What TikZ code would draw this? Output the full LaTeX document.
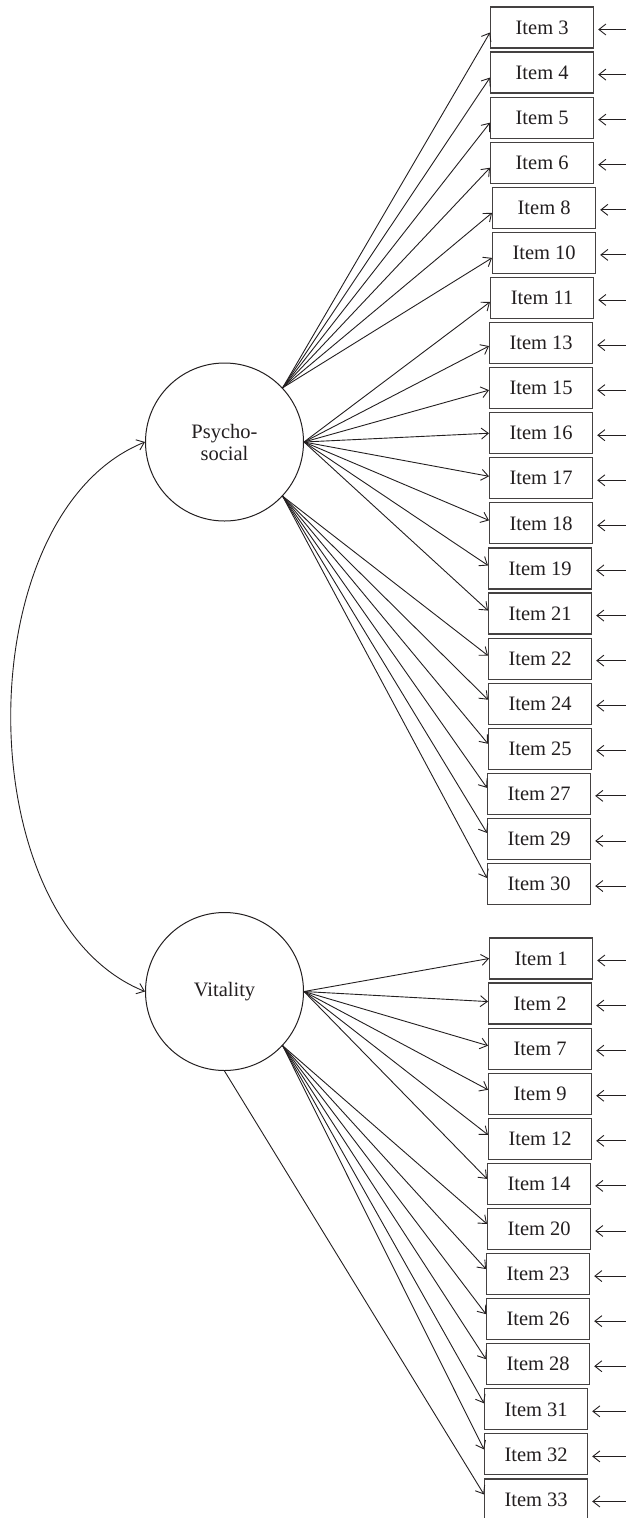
\documentclass[tikz,border=0pt]{standalone}
\usepackage{fontspec}
\setmainfont{Liberation Serif}
\usetikzlibrary{arrows.meta}
\definecolor{ink}{HTML}{231F20}
\begin{document}
\begin{tikzpicture}[x=1pt,y=-1pt,
  itembox/.style={draw=ink!85, line width=1.2pt, minimum width=103pt, minimum height=41pt,
    inner sep=0pt, font=\fontsize{20.5}{22}\selectfont, text=ink, anchor=west},
  latent/.style={circle, draw=ink, line width=1pt, minimum size=158pt, inner sep=0pt,
    font=\fontsize{20.5}{22}\selectfont, align=center, text=ink},
  barb/.tip={Straight Barb[length=7pt,width=11pt]},
  load/.style={draw=ink, line width=0.9pt, -barb},
  corr/.style={draw=ink, line width=0.9pt, barb-barb},
]
\useasboundingbox (0,0) rectangle (626,1518);

% latent variables
\node[latent] (psy) at (224.5,442) {Psycho-\\social};
\node[latent] (vit) at (224.5,991.5) {Vitality};

% indicator boxes, upper group
\foreach \n/\lx [count=\i from 0] in {3/490,4/490,5/490,6/490,8/492,10/492,11/490,13/489,15/489,16/489,17/489,18/489,19/488,21/488,22/488,24/488,25/488,27/487,29/487,30/487}{
  \node[itembox] (i\n) at (\lx,{27.5+45.08*\i}) {Item \n};
  \coordinate (e\n) at (626,{29.5+45.08*\i});
  \draw[load] (e\n) -- ([xshift=4pt,yshift=-2pt]i\n.east);
}
% indicator boxes, lower group
\foreach \n/\lx [count=\i from 0] in {1/489,2/488,7/488,9/488,12/488,14/487,20/487,23/486,26/486,28/486,31/484,32/484,33/484}{
  \node[itembox] (i\n) at (\lx,{958.5+45.08*\i}) {Item \n};
  \coordinate (e\n) at (626,{960.5+45.08*\i});
  \draw[load] (e\n) -- ([xshift=4pt,yshift=-2pt]i\n.east);
}

% loadings, Psychosocial
\foreach \n/\dy in {3/-5,4/-5,5/-5,6/-5,8/-5,10/-5}
  \draw[load] (psy.43) -- ([yshift=\dy pt]i\n.west);
\foreach \n/\dy in {11/-4,13/-3,15/-2,16/0,17/2,18/3,19/3,21/3}
  \draw[load] (psy.east) -- ([yshift=\dy pt]i\n.west);
\foreach \n/\dy in {22/3,24/4,25/5,27/6,29/6,30/6}
  \draw[load] (psy.-43) -- ([yshift=\dy pt]i\n.west);

% loadings, Vitality
\foreach \n/\dy in {1/0,2/2,7/3,9/4,12/4,14/5}
  \draw[load] (vit.east) -- ([yshift=\dy pt]i\n.west);
\foreach \n/\dy in {20/5,23/5,26/5,28/5,31/6,32/5}
  \draw[load] (vit.-43) -- ([yshift=\dy pt]i\n.west);
\draw[load] (vit.south) -- ([yshift=5pt]i33.west);

% correlation
\draw[corr] (psy.west) .. controls +(-178.7,72) and +(-178.7,-72) .. (vit.west);
\end{tikzpicture}
\end{document}
